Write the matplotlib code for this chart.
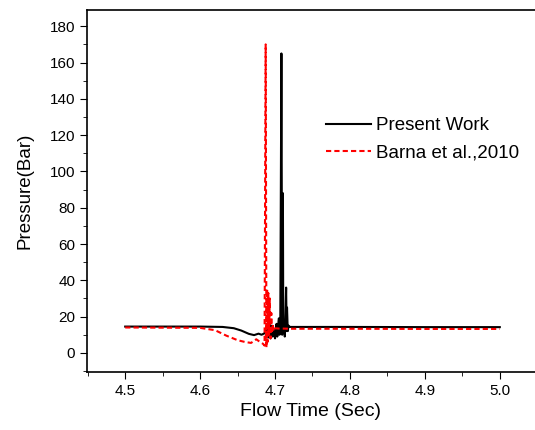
import matplotlib.pyplot as plt
from matplotlib.ticker import MultipleLocator

plt.rcParams['font.family'] = ['Liberation Sans', 'DejaVu Sans']

# Present Work (black solid)
work_t = [4.50, 4.60, 4.63, 4.645, 4.655, 4.665, 4.672, 4.678, 4.682, 4.686,
          4.689, 4.691, 4.693, 4.694, 4.696, 4.697, 4.699, 4.700, 4.702, 4.703,
          4.705, 4.706, 4.707, 4.7085, 4.7095, 4.7105, 4.711, 4.712, 4.713, 4.714,
          4.7148, 4.7155, 4.716, 4.717, 4.718, 4.720, 4.73, 4.80, 4.90, 5.00]
work_p = [14.5, 14.5, 14.3, 13.6, 12.3, 10.5, 9.8, 10.6, 10.0, 10.8,
          14.0, 8.5, 17.0, 8.0, 15.0, 9.0, 12.5, 8.0, 16.0, 9.0,
          19.0, 10.0, 14.0, 165.0, 10.0, 88.0, 11.0, 18.0, 9.0, 22.0,
          36.0, 12.0, 25.0, 12.0, 15.0, 14.3, 14.3, 14.3, 14.2, 14.2]

# Barna et al., 2010 (red dashed)
barna_t = [4.50, 4.60, 4.62, 4.635, 4.65, 4.66, 4.668, 4.675, 4.68, 4.684,
           4.686, 4.6875, 4.6885, 4.6895, 4.690, 4.691, 4.692, 4.693, 4.694, 4.695,
           4.696, 4.697, 4.698, 4.699, 4.700, 4.702, 4.705, 4.71, 4.72, 4.80,
           4.90, 5.00]
barna_p = [14.0, 13.8, 12.5, 9.5, 7.0, 6.0, 5.5, 7.5, 6.0, 5.0,
           4.0, 170.0, 3.0, 35.0, 6.0, 33.0, 10.0, 30.0, 8.0, 22.0,
           11.0, 16.0, 12.0, 13.0, 13.5, 13.5, 13.4, 13.4, 13.3, 13.3,
           13.2, 13.2]

fig = plt.figure(figsize=(5.35, 4.3), dpi=100)
ax = fig.add_axes([0.1626, 0.135, 0.8374, 0.842])

ax.plot(work_t, work_p, color="black", lw=1.5, label="Present Work")
ax.plot(barna_t, barna_p, color="red", lw=1.5, ls=(0, (2.5, 1.5)),
        label="Barna et al.,2010")

ax.set_xlim(4.449, 5.047)
ax.set_ylim(-10.5, 189)
ax.xaxis.set_major_locator(MultipleLocator(0.1))
ax.xaxis.set_minor_locator(MultipleLocator(0.05))
ax.yaxis.set_major_locator(MultipleLocator(20))
ax.yaxis.set_minor_locator(MultipleLocator(10))
ax.xaxis.set_major_formatter(plt.FormatStrFormatter("%.1f"))
ax.tick_params(which="both", direction="out", labelsize=11)
ax.tick_params(which="major", length=5)
ax.tick_params(which="minor", length=3)
ax.spines["right"].set_visible(False)
for s in ["left", "bottom", "top"]:
    ax.spines[s].set_linewidth(1.2)

ax.set_xlabel("Flow Time (Sec)", fontsize=14)
ax.set_ylabel("Pressure(Bar)", fontsize=13.5, labelpad=12)

ax.legend(frameon=False, fontsize=13.5, loc="upper left",
          bbox_to_anchor=(0.495, 0.75), handlelength=2.4, handletextpad=0.3,
          labelspacing=0.55)

fig.savefig("out.png", dpi=100)
